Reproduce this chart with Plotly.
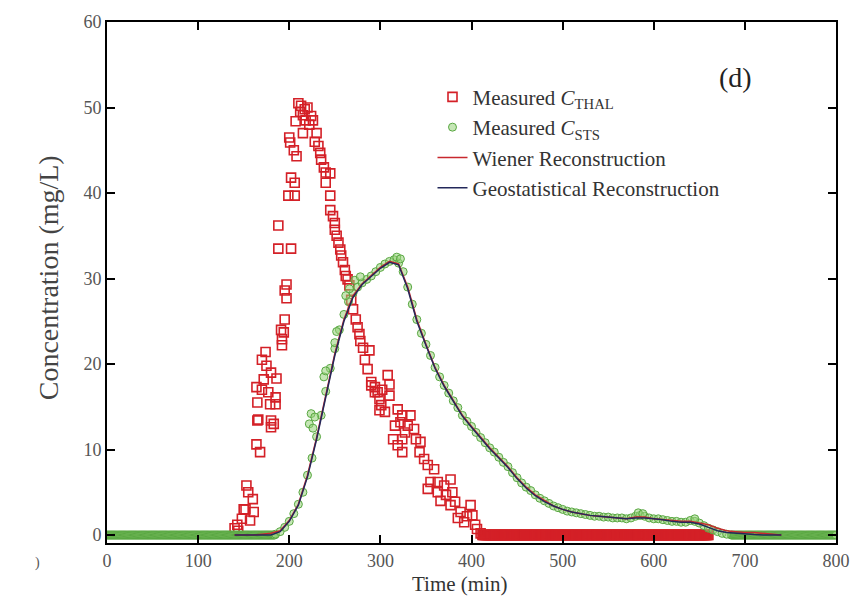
import numpy as np
import plotly.graph_objects as go

# ---- Measured thallium concentration (time in min, concentration in mg/L)
thal_t = [140, 143, 144, 148, 150, 152, 153, 155, 157, 160, 161, 164, 165, 165, 164, 166, 168,
          170, 170, 172, 174, 175, 177, 179, 180, 180, 180, 183, 185, 185, 186, 188, 188, 191,
          192, 192, 194, 195, 195, 197, 197, 199, 200, 201, 202, 202, 205, 206, 206, 207, 208,
          210, 212, 213, 215, 215, 217, 218, 220, 222, 224, 226, 228, 230, 232, 234, 235, 238,
          240, 240, 245, 245, 245, 248, 250, 250, 252, 254, 256, 257, 259, 261, 262, 264, 266,
          268, 270, 273, 275, 277, 278, 281, 283, 286, 288, 290, 290, 294, 294, 297, 299, 299,
          301, 302, 305, 308, 310, 310, 314, 316, 319, 319, 322, 324, 324, 324, 327, 330, 333,
          337, 339, 343, 344, 348, 352, 352, 355, 359, 363, 363, 366, 370, 372, 377, 377, 379,
          382, 385, 388, 392, 395, 399, 401, 404, 406, 410]
thal_c = [0.8, 1.2, 0.5, 1.9, 3.0, 3.0, 5.8, 5.0, 1.7, 4.2, 2.7, 10.6, 13.4, 15.5, 17.3, 13.5, 9.7,
          17.0, 20.5, 18.2, 21.4, 19.8, 16.7, 15.3, 19.0, 13.4, 12.6, 13.0, 16.1, 15.3, 18.3, 33.5, 36.2, 24.0,
          22.2, 22.9, 23.7, 25.2, 28.6, 27.7, 29.3, 39.7, 46.5, 45.9, 41.8, 33.5, 45.0, 41.2, 39.7, 48.4, 44.3,
          50.5, 49.5, 50.2, 49.1, 47.0, 49.8, 48.5, 50.0, 48.0, 49.0, 48.5, 46.0, 47.0, 45.5, 44.7, 43.9, 43.0,
          42.4, 41.2, 42.3, 39.7, 38.0, 37.3, 36.5, 35.7, 35.0, 34.2, 33.4, 32.7, 31.9, 31.0, 30.3, 29.9, 29.2,
          27.5, 26.4, 25.2, 24.3, 23.5, 22.7, 21.9, 20.5, 19.4, 21.6, 17.9, 17.5, 17.3, 16.7, 16.7, 15.9, 14.6,
          15.2, 17.0, 14.4, 18.7, 17.6, 16.3, 11.2, 12.8, 14.7, 10.5, 13.2, 14.0, 11.2, 9.7, 12.0, 12.8, 14.0,
          12.4, 11.2, 9.7, 10.9, 8.9, 8.2, 5.4, 6.2, 7.7, 6.2, 5.0, 4.0, 5.8, 4.7, 6.5, 3.5, 5.0,
          3.9, 2.0, 2.7, 1.5, 2.2, 3.5, 2.3, 1.2, 0.7, 0.2]
# Stretch where the thallium reading stays at zero (logged every minute)
thal_zero_spans = [(412, 660)]

# ---- Measured STS concentration
sts_t = [185, 190, 195, 200, 205, 210, 215, 220, 225, 230, 235, 240, 245, 250, 255, 260, 265,
         270, 275, 280, 285, 290, 295, 300, 305, 310, 315, 320, 325, 330, 335, 340, 345, 350,
         355, 360, 365, 370, 375, 380, 385, 390, 395, 400, 405, 410, 415, 420, 425, 430, 435,
         440, 445, 450, 455, 460, 465, 470, 475, 480, 485, 490, 495, 500, 505, 510, 515, 520,
         525, 530, 535, 540, 545, 550, 555, 560, 565, 570, 575, 580, 585, 590, 595, 600, 605,
         610, 615, 620, 625, 630, 635, 640, 645, 650, 655, 660, 665, 670, 675, 680,
         222, 224, 226, 228, 238, 240, 250, 252, 262, 266, 272, 278, 318, 322, 583, 588, 645]
sts_c = [0.1, 0.4, 0.9, 1.6, 2.5, 3.6, 5.0, 7.0, 9.0, 11.5, 14.0, 16.8, 19.5, 21.8, 24.0, 25.8, 27.3,
         28.3, 29.0, 29.5, 29.9, 30.3, 30.8, 31.3, 31.7, 32.0, 32.2, 31.8, 30.8, 29.0, 27.0, 25.2, 23.6, 22.3,
         21.0, 19.6, 18.5, 17.5, 16.6, 15.7, 14.9, 14.0, 13.3, 12.7, 12.0, 11.4, 10.8, 10.2, 9.7, 9.1, 8.5,
         8.0, 7.3, 6.7, 6.1, 5.6, 5.2, 4.7, 4.3, 4.0, 3.7, 3.4, 3.2, 3.0, 2.8, 2.7, 2.6, 2.5,
         2.4, 2.3, 2.2, 2.2, 2.1, 2.1, 2.0, 2.0, 2.0, 1.9, 2.0, 2.2, 2.3, 2.2, 2.0, 1.9, 1.9,
         1.8, 1.7, 1.6, 1.6, 1.5, 1.5, 1.7, 1.6, 1.4, 1.1, 0.8, 0.6, 0.4, 0.2, 0.1,
         13.0, 14.2, 12.5, 13.8, 18.5, 19.2, 22.5, 23.8, 28.0, 28.8, 29.8, 30.2, 32.5, 32.3, 2.6, 2.5, 1.9]
sts_zero_spans = [(0, 184), (685, 800)]

# ---- Reconstructions (every 10 min)
rec_t = [140, 150, 160, 170, 180, 190, 200, 210, 220, 230, 240, 250, 260, 270, 280, 290, 300,
         310, 320, 330, 340, 350, 360, 370, 380, 390, 400, 410, 420, 430, 440, 450, 460, 470,
         480, 490, 500, 510, 520, 530, 540, 550, 560, 570, 580, 590, 600, 610, 620, 630, 640,
         650, 660, 670, 680, 690, 700, 710, 720, 730, 740]
wiener_c = [0.0, 0.0, 0.0, 0.1, 0.2, 0.5, 1.7, 3.6, 7.0, 11.4, 16.4, 21.2, 25.2, 28.0, 29.4, 30.3, 31.3,
            32.0, 31.7, 29.0, 25.2, 22.3, 19.6, 17.5, 15.7, 14.0, 12.7, 11.4, 10.2, 9.1, 8.0, 6.7, 5.6, 4.7,
            4.0, 3.4, 3.0, 2.7, 2.5, 2.3, 2.2, 2.1, 2.0, 1.9, 2.1, 2.1, 1.9, 1.8, 1.7, 1.6, 1.6,
            1.4, 1.2, 0.8, 0.5, 0.4, 0.3, 0.3, 0.2, 0.1, 0.0]
geo_c = [0.0, 0.0, 0.0, 0.0, 0.0, 0.4, 1.6, 3.5, 6.8, 11.2, 16.2, 21.0, 25.0, 27.8, 29.3, 30.2, 31.2,
         31.9, 31.6, 28.8, 25.0, 22.2, 19.5, 17.4, 15.6, 13.9, 12.6, 11.3, 10.1, 9.0, 7.9, 6.6, 5.5, 4.6,
         3.9, 3.4, 3.0, 2.7, 2.5, 2.3, 2.2, 2.1, 2.0, 1.9, 2.0, 2.0, 1.9, 1.8, 1.6, 1.5, 1.5,
         1.3, 0.9, 0.5, 0.3, 0.2, 0.1, 0.05, 0.0, 0.0, 0.0]

x_ticks = [0, 100, 200, 300, 400, 500, 600, 700, 800]
y_ticks = [0, 10, 20, 30, 40, 50, 60]

SERIF = "Liberation Serif, Times New Roman, serif"
RED = "#d42027"
GREEN_EDGE = "#5aa843"
GREEN_FILL = "rgba(150,210,120,0.55)"


def span_times(spans):
    out = []
    for a, b in spans:
        out.extend(range(a, b + 1))
    return out


thal_zero_t = span_times(thal_zero_spans)
sts_zero_t = span_times(sts_zero_spans)

fig = go.Figure()

fig.add_trace(go.Scatter(
    x=thal_zero_t, y=[0.0] * len(thal_zero_t), mode="markers", showlegend=False,
    marker=dict(symbol="square-open", size=9, color=RED, line=dict(width=1.6, color=RED)),
    hoverinfo="skip"))
fig.add_trace(go.Scatter(
    x=thal_t, y=thal_c, mode="markers", name="Measured <i>C</i><sub>THAL</sub>",
    marker=dict(symbol="square-open", size=9, color=RED, line=dict(width=1.6, color=RED))))

fig.add_trace(go.Scatter(
    x=sts_zero_t, y=[0.0] * len(sts_zero_t), mode="markers", showlegend=False,
    marker=dict(symbol="circle", size=8, color=GREEN_FILL, line=dict(width=1, color=GREEN_EDGE)),
    hoverinfo="skip"))
fig.add_trace(go.Scatter(
    x=sts_t, y=sts_c, mode="markers", name="Measured <i>C</i><sub>STS</sub>",
    marker=dict(symbol="circle", size=8, color=GREEN_FILL, line=dict(width=1, color=GREEN_EDGE))))

fig.add_trace(go.Scatter(
    x=rec_t, y=wiener_c, mode="lines", name="Wiener Reconstruction",
    line=dict(color="#c8282e", width=1.5)))
fig.add_trace(go.Scatter(
    x=rec_t, y=geo_c, mode="lines", name="Geostatistical Reconstruction",
    line=dict(color="#23285a", width=1.5)))

axis_common = dict(
    showline=True, linecolor="black", linewidth=2, mirror="ticks",
    ticks="inside", ticklen=8, tickwidth=1.5, tickcolor="black",
    showgrid=False, zeroline=False,
    tickfont=dict(family=SERIF, size=18, color="#555555"),
)

fig.update_xaxes(range=[0, 800], tickvals=x_ticks, **axis_common)
fig.update_yaxes(range=[-0.93, 60], tickvals=y_ticks, **axis_common)

fig.update_layout(
    width=862, height=596,
    margin=dict(l=107, r=21, t=19, b=53),
    paper_bgcolor="white", plot_bgcolor="white",
    font=dict(family=SERIF, color="#333333"),
    legend=dict(
        x=0.4465, y=0.895, xanchor="left", yanchor="top",
        bgcolor="rgba(0,0,0,0)", borderwidth=0,
        font=dict(family=SERIF, size=21, color="#333333"),
        itemwidth=30, tracegroupgap=0,
    ),
    annotations=[
        dict(text="Time (min)", xref="paper", yref="paper", x=0.484, y=-0.078,
             xanchor="center", yanchor="middle", showarrow=False,
             font=dict(family=SERIF, size=21, color="#333333")),
        dict(text="Concentration (mg/L)", xref="paper", yref="paper", x=-0.081, y=0.51,
             textangle=-90, xanchor="center", yanchor="middle", showarrow=False,
             font=dict(family=SERIF, size=28, color="#444444")),
        dict(text="(d)", xref="paper", yref="paper", x=0.862, y=0.893,
             xanchor="center", yanchor="middle", showarrow=False,
             font=dict(family=SERIF, size=28, color="#222222")),
        dict(text=")", xref="paper", yref="paper", x=-0.095, y=-0.038,
             xanchor="center", yanchor="middle", showarrow=False,
             font=dict(family=SERIF, size=14, color="#555555")),
    ],
)

fig.write_html("out.html")
